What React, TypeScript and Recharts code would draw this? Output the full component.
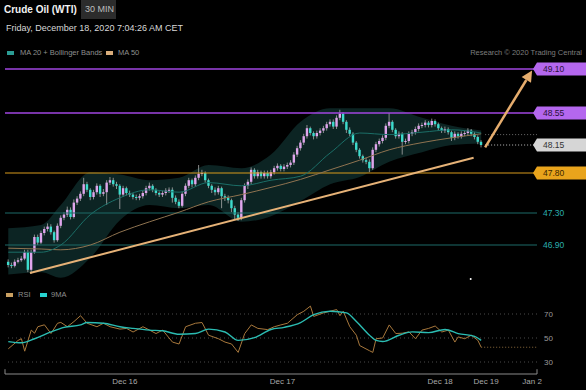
import React from "react";
import { ComposedChart, LineChart, Line, Area, Bar, XAxis, YAxis, ReferenceLine, ReferenceDot } from "recharts";

const FONT = '"Liberation Sans", Arial, sans-serif';

// 30 min candles, bar 1 is the first one on screen
const opens = [
  46.69, 46.65, 46.64, 46.69, 46.71, 46.73, 46.81, 46.59, 46.81, 47.0,
  46.93, 47.05, 47.1, 47.13, 47.06, 46.96, 47.14, 47.24, 47.28, 47.34,
  47.25, 47.43, 47.48, 47.54, 47.66, 47.59, 47.5, 47.56, 47.64, 47.54,
  47.56, 47.68, 47.71, 47.66, 47.64, 47.53, 47.61, 47.55, 47.53, 47.5,
  47.49, 47.51, 47.55, 47.61, 47.64, 47.59, 47.55, 47.53, 47.55, 47.58,
  47.59, 47.49, 47.44, 47.39, 47.54, 47.64, 47.71, 47.66, 47.74, 47.79,
  47.8, 47.71, 47.64, 47.59, 47.56, 47.61, 47.51, 47.49, 47.46, 47.36,
  47.28, 47.24, 47.46, 47.64, 47.69, 47.84, 47.76, 47.81, 47.76, 47.8,
  47.76, 47.81, 47.86, 47.89, 47.85, 47.88, 47.9, 47.93, 48.03, 48.11,
  48.18, 48.26, 48.36, 48.3, 48.26, 48.3, 48.33, 48.36, 48.41, 48.44,
  48.38, 48.49, 48.54, 48.44, 48.34, 48.29, 48.18, 48.09, 48.01, 47.96,
  47.94, 47.86, 48.09, 48.16, 48.2, 48.24, 48.39, 48.44, 48.34, 48.26,
  48.29, 48.19, 48.2, 48.29, 48.31, 48.35, 48.39, 48.4, 48.43, 48.4,
  48.45, 48.41, 48.36, 48.33, 48.35, 48.31, 48.24, 48.29, 48.26, 48.29,
  48.3, 48.33, 48.29, 48.25, 48.19,
];
const highs = [
  46.72, 46.68, 46.72, 46.74, 46.76, 46.84, 46.84, 46.84, 47.03, 47.03,
  47.08, 47.13, 47.17, 47.16, 47.08, 47.17, 47.27, 47.31, 47.38, 47.37,
  47.47, 47.51, 47.57, 47.74, 47.69, 47.61, 47.59, 47.67, 47.66, 47.6,
  47.71, 47.75, 47.74, 47.69, 47.66, 47.64, 47.63, 47.58, 47.55, 47.53,
  47.54, 47.58, 47.64, 47.68, 47.66, 47.61, 47.57, 47.58, 47.61, 47.62,
  47.62, 47.52, 47.47, 47.57, 47.67, 47.74, 47.73, 47.77, 47.9, 47.84,
  47.82, 47.73, 47.66, 47.62, 47.64, 47.63, 47.54, 47.52, 47.48, 47.39,
  47.31, 47.49, 47.67, 47.72, 47.87, 47.86, 47.84, 47.83, 47.83, 47.83,
  47.84, 47.89, 47.92, 47.91, 47.91, 47.93, 47.96, 48.06, 48.14, 48.21,
  48.29, 48.4, 48.38, 48.32, 48.33, 48.36, 48.39, 48.44, 48.47, 48.47,
  48.52, 48.59, 48.56, 48.46, 48.37, 48.31, 48.2, 48.11, 48.03, 47.99,
  47.97, 48.12, 48.19, 48.23, 48.27, 48.42, 48.55, 48.46, 48.36, 48.32,
  48.31, 48.23, 48.32, 48.34, 48.38, 48.42, 48.43, 48.46, 48.45, 48.48,
  48.47, 48.43, 48.38, 48.38, 48.37, 48.33, 48.32, 48.31, 48.32, 48.33,
  48.36, 48.35, 48.31, 48.27, 48.21,
];
const lows = [
  46.62, 46.61, 46.62, 46.67, 46.69, 46.71, 46.56, 46.54, 46.79, 46.9,
  46.91, 47.02, 47.07, 47.03, 46.93, 46.94, 47.11, 47.21, 47.25, 47.22,
  47.23, 47.4, 47.45, 47.51, 47.56, 47.46, 47.47, 47.53, 47.5, 47.51,
  47.4, 47.65, 47.63, 47.6, 47.35, 47.5, 47.52, 47.5, 47.47, 47.46,
  47.46, 47.48, 47.52, 47.58, 47.56, 47.52, 47.5, 47.5, 47.52, 47.55,
  47.43, 47.41, 47.36, 47.37, 47.51, 47.61, 47.62, 47.63, 47.71, 47.76,
  47.68, 47.61, 47.55, 47.52, 47.53, 47.36, 47.45, 47.42, 47.31, 47.21,
  47.2, 47.21, 47.43, 47.6, 47.66, 47.73, 47.73, 47.73, 47.73, 47.73,
  47.73, 47.78, 47.83, 47.82, 47.82, 47.85, 47.87, 47.9, 48.0, 48.08,
  48.15, 48.23, 48.27, 48.22, 48.23, 48.27, 48.3, 48.33, 48.38, 48.35,
  48.35, 48.46, 48.41, 48.3, 48.26, 48.15, 48.06, 47.98, 47.93, 47.91,
  47.81, 47.84, 48.06, 48.13, 48.17, 48.21, 48.36, 48.31, 48.23, 48.23,
  48.03, 48.16, 48.17, 48.26, 48.28, 48.32, 48.36, 48.37, 48.37, 48.37,
  48.38, 48.33, 48.3, 48.3, 48.28, 48.2, 48.21, 48.23, 48.23, 48.26,
  48.27, 48.26, 48.22, 48.16, 48.12,
];
const closes = [
  46.65, 46.64, 46.69, 46.71, 46.73, 46.81, 46.59, 46.81, 47.0, 46.93,
  47.05, 47.1, 47.13, 47.06, 46.96, 47.14, 47.24, 47.28, 47.34, 47.25,
  47.43, 47.48, 47.54, 47.66, 47.59, 47.5, 47.56, 47.64, 47.54, 47.56,
  47.68, 47.71, 47.66, 47.64, 47.53, 47.61, 47.55, 47.53, 47.5, 47.49,
  47.51, 47.55, 47.61, 47.64, 47.59, 47.55, 47.53, 47.55, 47.58, 47.59,
  47.49, 47.44, 47.39, 47.54, 47.64, 47.71, 47.66, 47.74, 47.79, 47.8,
  47.71, 47.64, 47.59, 47.56, 47.61, 47.51, 47.49, 47.46, 47.36, 47.28,
  47.24, 47.46, 47.64, 47.69, 47.84, 47.76, 47.81, 47.76, 47.8, 47.76,
  47.81, 47.86, 47.89, 47.85, 47.88, 47.9, 47.93, 48.03, 48.11, 48.18,
  48.26, 48.36, 48.3, 48.26, 48.3, 48.33, 48.36, 48.41, 48.44, 48.38,
  48.49, 48.54, 48.44, 48.34, 48.29, 48.18, 48.09, 48.01, 47.96, 47.94,
  47.86, 48.09, 48.16, 48.2, 48.24, 48.39, 48.44, 48.34, 48.26, 48.29,
  48.19, 48.2, 48.29, 48.31, 48.35, 48.39, 48.4, 48.43, 48.4, 48.45,
  48.41, 48.36, 48.33, 48.35, 48.31, 48.24, 48.29, 48.26, 48.29, 48.3,
  48.33, 48.29, 48.25, 48.19, 48.15,
];

// MA 20, MA 50 and bands at these bars
const bandIdx = [1, 11, 17, 26, 35, 44, 53, 62, 72, 81, 90, 99, 108, 117, 127, 136, 145];
const ma20 = [46.81, 46.81, 46.9, 47.28, 47.49, 47.59, 47.56, 47.68, 47.64, 47.71, 47.76, 48.05, 48.3, 48.28, 48.31, 48.34, 48.3];
const ma50 = [46.86, 46.85, 46.84, 46.9, 47.06, 47.19, 47.31, 47.44, 47.53, 47.62, 47.72, 47.84, 47.96, 48.09, 48.18, 48.24, 48.29];
const bbUpper = [47.11, 47.15, 47.4, 47.81, 47.78, 47.71, 47.74, 47.9, 47.86, 48.03, 48.44, 48.61, 48.61, 48.61, 48.49, 48.39, 48.33];
const bbLower = [46.53, 46.56, 46.49, 46.74, 47.21, 47.4, 47.36, 47.4, 47.19, 47.26, 47.45, 47.66, 47.75, 47.94, 48.06, 48.15, 48.17];

// RSI panel
const rsiIdx = [1, 4, 5, 6, 8, 9, 10, 12, 14, 16, 17, 19, 21, 23, 25, 28, 30, 32, 35, 37, 39, 42, 44, 46, 48, 51, 53, 55, 58, 60, 62, 65, 67, 69, 71, 73, 75, 77, 80, 82, 84, 86, 89, 91, 93, 94, 97, 99, 101, 102, 103, 105, 107, 108, 111, 112, 113, 115, 117, 119, 121, 123, 125, 127, 129, 131, 133, 135, 137, 138, 140, 142, 144, 145];
const rsiVals = [41, 48, 49.4, 39, 56.6, 54, 59.4, 61, 53.7, 62.3, 63, 59.4, 63.7, 68.6, 62.3, 59.4, 62.3, 59.4, 57.4, 58, 55, 59.4, 56.6, 53.7, 56.6, 46.6, 45, 59.4, 62.3, 62.9, 52.3, 49.4, 46.6, 45, 38, 53.7, 60.9, 58, 57, 59.4, 60.9, 62.3, 69.4, 72.3, 76.6, 68, 70.9, 72.3, 73.7, 68.6, 72.3, 59.4, 52.3, 43.7, 39.4, 38, 49.4, 50, 60.9, 53.7, 54, 55.1, 49.4, 56.6, 58, 60, 55, 56.6, 46.6, 50.9, 49.4, 52.3, 48, 42.3];
const rsiMaIdx = [1, 5, 9, 14, 18, 23, 25, 30, 35, 39, 44, 48, 53, 58, 62, 67, 71, 76, 81, 85, 90, 94, 99, 104, 107, 111, 113, 115, 120, 124, 129, 134, 138, 143, 145];
const rsiMaVals = [47, 46, 49.4, 55.1, 58.9, 60.9, 62.9, 62.3, 59.4, 58, 56.6, 56, 53.1, 53.7, 57.4, 55, 48, 50.3, 57.1, 58.9, 62.9, 69.4, 72.3, 70.9, 63.7, 52.3, 48, 47.1, 52.3, 55.1, 54.5, 57.1, 53.7, 51.4, 48];
const rsiLast = 42.3;

const dateTicks = [36.5, 84.5, 132.5, 146.5, 160.5];
const dateLabels = ["Dec 16", "Dec 17", "Dec 18", "Dec 19", "Jan 2"];

const levels = [49.1, 48.55, 48.15, 47.8, 47.3, 46.9];
const levelKinds = ["target", "target", "last", "pivot", "support", "support"];
const prevMark = 48.28;

const trendStart = { x: 7.6, y: 46.55 };
const trendEnd = { x: 142.7, y: 47.99 };
const arrowStart = { x: 146.2, y: 48.12 };
const arrowEnd = { x: 160.5, y: 49.08 };

const X_MAX = 162;
const PRICE_DOMAIN = [46.4625, 49.2125];

const kindStyle: Record<string, { line: string; box?: string; text: string; width: number }> = {
  target: { line: "#a046e0", box: "#b467ee", text: "#2a1038", width: 1.6 },
  last: { line: "#bdbdbd", box: "#d6d6d6", text: "#333", width: 1 },
  pivot: { line: "#d89a1c", box: "#e9a41c", text: "#3a2600", width: 1.2 },
  support: { line: "#1c6a68", text: "#2aaeae", width: 1.2 },
};

type Row = { i: number; o?: number; c?: number; range?: [number, number]; ma20?: number; ma50?: number; band?: [number, number] };
const rowMap = new Map<number, Row>();
const rowAt = (i: number) => {
  let r = rowMap.get(i);
  if (!r) {
    r = { i };
    rowMap.set(i, r);
  }
  return r;
};
closes.forEach((c, k) => {
  const r = rowAt(k + 1);
  r.o = opens[k];
  r.c = c;
  r.range = [lows[k], highs[k]];
});
bandIdx.forEach((i, k) => {
  const r = rowAt(i);
  r.ma20 = ma20[k];
  r.ma50 = ma50[k];
  r.band = [bbLower[k], bbUpper[k]];
});
const priceRows = [...rowMap.values()].sort((a, b) => a.i - b.i);

type RsiRow = { i: number; rsi?: number; ma?: number };
const rsiMap = new Map<number, RsiRow>();
rsiIdx.forEach((i, k) => rsiMap.set(i, { ...(rsiMap.get(i) || { i }), rsi: rsiVals[k] }));
rsiMaIdx.forEach((i, k) => rsiMap.set(i, { ...(rsiMap.get(i) || { i }), ma: rsiMaVals[k] }));
const rsiRows = [...rsiMap.values()].sort((a, b) => a.i - b.i);

function Candle(props: any) {
  const { x, y, width, height, payload } = props;
  if (!payload || payload.c == null || !payload.range) return null;
  const [lo, hi] = payload.range;
  const cx = x + width / 2;
  const k = height / (hi - lo);
  const yOf = (v: number) => y + (hi - v) * k;
  const up = payload.c >= payload.o;
  const top = yOf(Math.max(payload.o, payload.c));
  const bot = yOf(Math.min(payload.o, payload.c));
  return (
    <g>
      <line x1={cx} x2={cx} y1={y} y2={y + height} stroke="#a9a9a9" strokeWidth={0.8} />
      <rect x={cx - 1.2} y={top} width={2.4} height={Math.max(1, bot - top)} fill={up ? "#dfa5ec" : "#3ddccd"} />
    </g>
  );
}

function LevelTick(props: any) {
  const { x, y, payload } = props;
  const k = levels.findIndex((v) => Math.abs(v - payload.value) < 0.001);
  if (k < 0) return null;
  const s = kindStyle[levelKinds[k]];
  const label = payload.value.toFixed(2);
  return (
    <g>
      {s.box && (
        <polygon
          points={`${x - 4},${y} ${x},${y - 6.5} ${x + 49},${y - 6.5} ${x + 49},${y + 6.5} ${x},${y + 6.5}`}
          fill={s.box}
        />
      )}
      <text x={x + 6} y={y} dy={3} fontSize={8.5} fill={s.text} fontFamily={FONT}>
        {label}
      </text>
    </g>
  );
}

function ArrowShape(props: any) {
  const { x1, y1, x2, y2 } = props;
  const dx = x2 - x1;
  const dy = y2 - y1;
  const len = Math.sqrt(dx * dx + dy * dy);
  const ux = dx / len;
  const uy = dy / len;
  const head = 11;
  const bx = x2 - ux * head;
  const by = y2 - uy * head;
  const px = -uy * 5.5;
  const py = ux * 5.5;
  return (
    <g>
      <line x1={x1} y1={y1} x2={bx} y2={by} stroke="#e6ad6e" strokeWidth={2.5} />
      <polygon points={`${x2},${y2} ${bx + px},${by + py} ${bx - px},${by - py}`} fill="#e6ad6e" />
    </g>
  );
}

const small: React.CSSProperties = { position: "absolute", fontFamily: FONT, whiteSpace: "nowrap" };

function Swatch({ left, top, color }: { left: number; top: number; color: string }) {
  return <div style={{ position: "absolute", left, top, width: 7, height: 4, background: color }} />;
}

export default function App() {
  return (
    <div style={{ position: "absolute", left: 0, top: 0, width: 586, height: 390, background: "#000", overflow: "hidden" }}>
      <div style={{ ...small, left: 4, top: 4, fontSize: 10, fontWeight: 700, color: "#f2f2f2" }}>Crude Oil (WTI)</div>
      <div style={{ position: "absolute", left: 81, top: 0, width: 35, height: 19, background: "#2c2c2c" }} />
      <div style={{ ...small, left: 85, top: 4, fontSize: 9, color: "#bdbdbd" }}>30 MIN</div>
      <div style={{ ...small, left: 6, top: 23, fontSize: 9, color: "#d8d8d8" }}>Friday, December 18, 2020 7:04:26 AM CET</div>

      <Swatch left={7} top={51} color="#2b9c94" />
      <div style={{ ...small, left: 20, top: 48, fontSize: 7.5, color: "#8e8e8e" }}>MA 20 + Bollinger Bands</div>
      <Swatch left={106} top={51} color="#d9ad7c" />
      <div style={{ ...small, left: 118, top: 48, fontSize: 7.5, color: "#8e8e8e" }}>MA 50</div>
      <div style={{ ...small, right: 4, top: 48, fontSize: 7.5, color: "#7c7c7c" }}>Research © 2020 Trading Central</div>

      <div style={{ position: "absolute", left: 0, top: 0 }}>
        <ComposedChart width={586} height={290} data={priceRows} margin={{ top: 60, right: 0, bottom: 10, left: 5 }}>
          <XAxis dataKey="i" type="number" domain={[0, X_MAX]} ticks={dateTicks} allowDataOverflow hide />
          <YAxis
            orientation="right"
            width={49}
            type="number"
            domain={PRICE_DOMAIN}
            allowDataOverflow
            ticks={levels}
            interval={0}
            axisLine={false}
            tickLine={false}
            tickSize={0}
            tickMargin={0}
            tick={(p: any) => <LevelTick {...p} />}
          />
          <Area
            dataKey="band"
            type="monotone"
            connectNulls
            stroke="none"
            fill="#0c2423"
            fillOpacity={1}
            isAnimationActive={false}
          />
          {levels.map((v, k) => {
            const s = kindStyle[levelKinds[k]];
            if (levelKinds[k] === "last") return null;
            return <ReferenceLine key={v} y={v} stroke={s.line} strokeWidth={s.width} />;
          })}
          <ReferenceLine
            segment={[{ x: arrowStart.x, y: levels[2] }, { x: X_MAX, y: levels[2] }]}
            stroke={kindStyle.last.line}
            strokeDasharray="1 2"
          />
          <ReferenceLine
            segment={[{ x: arrowStart.x, y: prevMark }, { x: X_MAX, y: prevMark }]}
            stroke="#6a6a6a"
            strokeDasharray="1 2"
          />
          <Line dataKey="ma50" type="monotone" connectNulls stroke="#8f7350" strokeWidth={1} dot={false} isAnimationActive={false} />
          <Line dataKey="ma20" type="monotone" connectNulls stroke="#1b6e67" strokeWidth={1} dot={false} isAnimationActive={false} />
          <Bar dataKey="range" barSize={3} shape={(p: any) => <Candle {...p} />} isAnimationActive={false} />
          <ReferenceLine segment={[trendStart, trendEnd]} stroke="#e6b277" strokeWidth={2} />
          <ReferenceLine segment={[arrowStart, arrowEnd]} shape={(p: any) => <ArrowShape {...p} />} />
          <ReferenceDot x={141.8} y={46.475} r={1} fill="#ffffff" stroke="none" />
        </ComposedChart>
      </div>

      <Swatch left={6} top={293} color="#c9a062" />
      <div style={{ ...small, left: 18, top: 290, fontSize: 7.5, color: "#8e8e8e" }}>RSI</div>
      <Swatch left={40} top={293} color="#27d3cf" />
      <div style={{ ...small, left: 51, top: 290, fontSize: 7.5, color: "#8e8e8e" }}>9MA</div>

      <div style={{ position: "absolute", left: 0, top: 280 }}>
        <LineChart width={586} height={110} data={rsiRows} margin={{ top: 22, right: 0, bottom: 0, left: 5 }}>
          <XAxis
            dataKey="i"
            type="number"
            domain={[0, X_MAX]}
            allowDataOverflow
            ticks={dateTicks}
            interval={0}
            height={16}
            stroke="#8a8a8a"
            tickLine={false}
            tickSize={0}
            tickMargin={4}
            tick={{ fontSize: 8, fill: "#a8a8a8", fontFamily: FONT }}
            tickFormatter={(v: number) => dateLabels[dateTicks.indexOf(v)] ?? ""}
          />
          <YAxis
            orientation="right"
            width={49}
            type="number"
            domain={[20, 80]}
            ticks={[30, 50, 70]}
            interval={0}
            axisLine={false}
            tickLine={false}
            tickSize={0}
            tickMargin={7}
            tick={{ fontSize: 8, fill: "#9a9a9a", fontFamily: FONT, textAnchor: "start" }}
          />
          {[30, 50, 70].map((v) => (
            <ReferenceLine key={v} y={v} stroke="#4a4a4a" strokeDasharray="1 3" />
          ))}
          <ReferenceLine segment={[{ x: 0, y: 20 }, { x: 0, y: 24 }]} stroke="#8a8a8a" />
          <ReferenceLine segment={[{ x: X_MAX, y: 20 }, { x: X_MAX, y: 24 }]} stroke="#8a8a8a" />
          <ReferenceLine segment={[{ x: 145, y: rsiLast }, { x: X_MAX, y: rsiLast }]} stroke="#8a6a3c" strokeDasharray="1 2" />
          <Line dataKey="rsi" type="linear" connectNulls stroke="#a8783c" strokeWidth={1} dot={false} isAnimationActive={false} />
          <Line dataKey="ma" type="monotone" connectNulls stroke="#2bbcb2" strokeWidth={1.4} dot={false} isAnimationActive={false} />
        </LineChart>
      </div>
    </div>
  );
}
